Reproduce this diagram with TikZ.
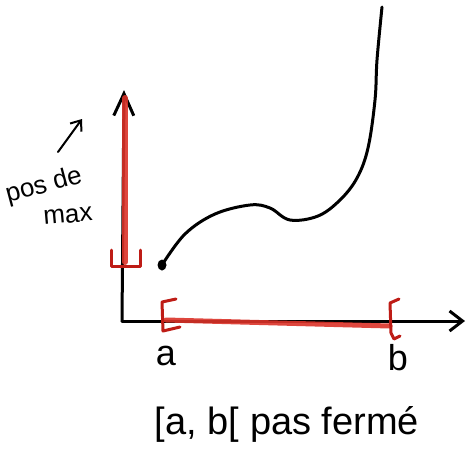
\documentclass[tikz,border=0pt]{standalone}
\usepackage{fontspec}
\setmainfont{Liberation Sans}
\usetikzlibrary{arrows.meta}
\definecolor{penred}{RGB}{218,50,40}
\definecolor{bracketred}{RGB}{190,28,22}
\begin{document}
\begin{tikzpicture}[x=1pt,y=-1pt,line cap=round,line join=round,
  ink/.style={line width=3pt},
  barb/.style={-{Straight Barb[length=#1,width=20pt,line width=3pt]}},
  hand/.style={font=\fontsize{#1}{#1}\selectfont,inner sep=0pt}]
\useasboundingbox (0,0) rectangle (470,464);

\coordinate (O) at (122,321);
\coordinate (ytip) at (124,90);
\coordinate (xtip) at (465,321);
\coordinate (start) at (162,265);
\coordinate (hint) at (58,152);
\coordinate (hinttip) at (82,119);

\draw[ink,barb=22pt] (O) -- (ytip);
\draw[ink,barb=13pt] (O) -- (xtip);

\draw[penred,line width=6pt,opacity=0.9] (125,98) -- (125,262);
\draw[penred,line width=5pt,opacity=0.9] (166,320) -- (390,326);

\draw[bracketred,ink] (111,250) -- (111,266) -- (140,266) -- (140,250);
\draw[bracketred,ink] (176,299) -- (162,302) -- (163,331) -- (180,327);
\draw[bracketred,ink] (399,299) -- (390,303) -- (391,333) -- (394,339) -- (400,336);

\fill (start) ellipse (4.5pt and 5.5pt);
\draw[ink] plot[smooth,tension=0.6] coordinates {(start) (185,234) (215,214) (250,205) (270,208) (290,220) (318,216) (340,200) (357,178) (368,148) (375,100) (377,60) (382,7)};

\draw[line width=2pt,-{Straight Barb[length=9pt,width=14pt,line width=2pt]}] (hint) -- (hinttip);

\node[hand=26,rotate=15] (pos) at (44,186) {pos de};
\node[hand=26,rotate=5] (max) at (68,216) {max};
\node[hand=36] (la) at (166,356) {a};
\node[hand=36] (lb) at (398,358) {b};
\node[hand=38] (note) at (287,424) {[a, b[ pas fermé};
\end{tikzpicture}
\end{document}
